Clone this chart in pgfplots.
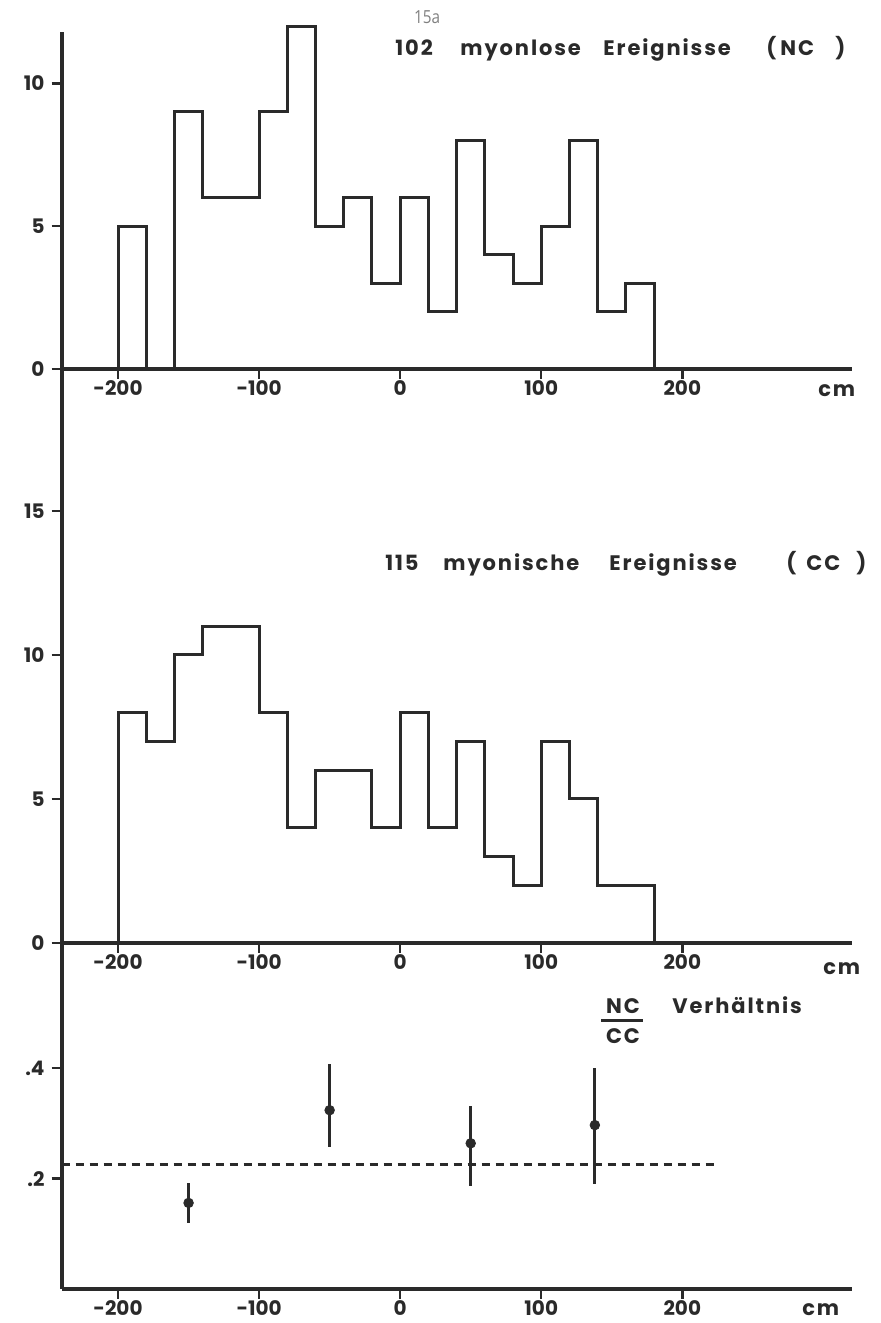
\documentclass[border=0pt]{standalone}
\usepackage{fontspec}
\setmainfont{Poppins}
\newfontfamily\pagefont{Open Sans}
\newfontfamily\spacedfont[LetterSpace=9]{Poppins}
\usepackage{pgfplots}
\pgfplotsset{compat=1.18}
\definecolor{ink}{HTML}{2A2A2A}
\newcommand\tfont{\spacedfont\fontsize{10.5}{12}\selectfont\bfseries}
\pgfplotsset{
  panel/.style={
    scale only axis, width=395pt, xmin=-240, xmax=320,
    axis x line=bottom, axis y line=left,
    axis line style={-, line width=1.9pt, color=ink},
    clip=false,
    tick align=outside, major tick length=5pt,
    tick style={line width=1.2pt, color=ink},
    xtick={-200,-100,0,100,200},
    xticklabels={-200,-100,0,100,200},
    ticklabel style={font=\fontsize{10}{12}\selectfont\bfseries, text=ink},
    xticklabel style={yshift=2.5pt},
    /pgf/number format/assume math mode=true,
    anchor=south west,
  },
  hist/.style={const plot mark left, line width=1.5pt, color=ink, mark=none},
}
\begin{document}
\begin{tikzpicture}
\useasboundingbox (0,0) rectangle (440.5pt,661.5pt);
% top panel: NC
\begin{axis}[panel, at={(30.8pt,477pt)}, height=168.5pt, ymin=0, ymax=11.8,
  ytick={0,5,10}, yticklabels={0,5,10}]
\addplot[hist] coordinates {(-200,0) (-200,5) (-180,0) (-160,9) (-140,6) (-120,6) (-100,9) (-80,12) (-60,5) (-40,6) (-20,3) (0,6) (20,2) (40,8) (60,4) (80,3) (100,5) (120,8) (140,2) (160,3) (180,0)};
\end{axis}
% middle panel: CC
\begin{axis}[panel, at={(30.8pt,190pt)}, height=287pt, ymin=0, ymax=19.93,
  ytick={0,5,10,15}, yticklabels={0,5,10,15}]
\addplot[hist] coordinates {(-200,0) (-200,8) (-180,7) (-160,10) (-140,11) (-120,11) (-100,8) (-80,4) (-60,6) (-40,6) (-20,4) (0,8) (20,4) (40,7) (60,3) (80,2) (100,7) (120,5) (140,2) (160,2) (180,0)};
\end{axis}
% bottom panel: ratio
\begin{axis}[panel, at={(30.8pt,17pt)}, height=173pt, ymin=0, ymax=0.627,
  ytick={0.2,0.4}, yticklabels={.2,.4}]
\addplot[ink, line width=1.4pt, dash pattern=on 4pt off 3pt] coordinates {(-240,0.226) (223,0.226)};
\addplot[ink, only marks, mark=*, mark size=2.4pt,
  error bars/.cd, y dir=both, y explicit, error mark=none,
  error bar style={line width=1.4pt, color=ink}]
  coordinates {
  (-150,0.156) += (0,0.036) -= (0,0.036)
  (-50,0.324) += (0,0.084) -= (0,0.067)
  (50,0.264) += (0,0.068) -= (0,0.077)
  (138,0.297) += (0,0.103) -= (0,0.107)
  };
\end{axis}
% texts, in pixel coordinates of the reference
\begin{scope}[shift={(0,661.5pt)}, x=0.5pt, y=-0.5pt, every node/.style={inner sep=0pt, text=ink}]
\node[anchor=base] at (427,24) {\pagefont\fontsize{9}{10}\selectfont\color{gray}\scalebox{0.85}[1]{15a}};
% title 1
\node[anchor=base west] at (395,56) {\tfont 102};
\node[anchor=base west] at (460,56) {\tfont myonlose};
\node[anchor=base west] at (603,56) {\tfont Ereignisse};
\node[anchor=base west] at (766,56) {\tfont (};
\node[anchor=base west] at (780,56) {\tfont NC};
\node[anchor=base west] at (835,56) {\tfont )};
% title 2
\node[anchor=base west] at (385,571) {\tfont 115};
\node[anchor=base west] at (443,571) {\tfont myonische};
\node[anchor=base west] at (609,571) {\tfont Ereignisse};
\node[anchor=base west] at (786,571) {\tfont (};
\node[anchor=base west] at (806,571) {\tfont CC};
\node[anchor=base west] at (856,571) {\tfont )};
% title 3
\node[anchor=base] at (623,1014) {\tfont NC};
\draw[ink, line width=1.5pt] (601,1021) -- (643,1021);
\node[anchor=base] at (623,1044) {\tfont CC};
\node[anchor=base west] at (672,1014) {\tfont Verhältnis};
% cm labels
\node[anchor=base west] at (818,397) {\tfont cm};
\node[anchor=base west] at (823,975) {\tfont cm};
\node[anchor=base west] at (802,1316) {\tfont cm};
\end{scope}
\end{tikzpicture}
\end{document}
